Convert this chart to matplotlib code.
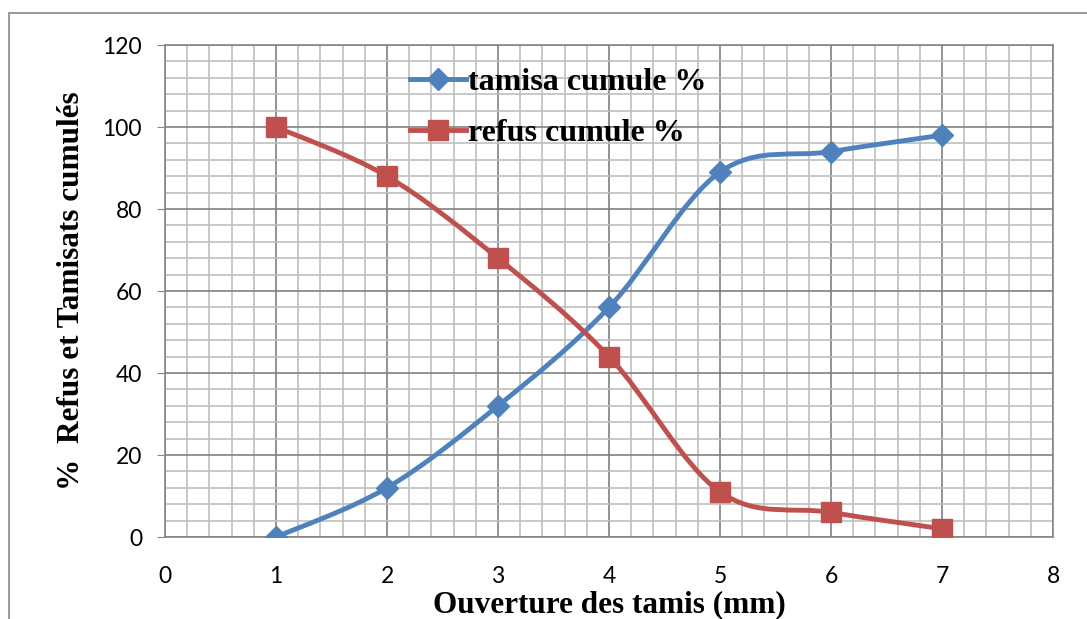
import numpy as np
import matplotlib
matplotlib.use("Agg")
import matplotlib.pyplot as plt
from matplotlib.path import Path
from matplotlib.patches import PathPatch, Rectangle
from matplotlib.lines import Line2D
from matplotlib.ticker import MultipleLocator

ouverture = [1, 2, 3, 4, 5, 6, 7]
tamisa = [0, 12, 32, 56, 89, 94, 98]
refus = [100, 88, 68, 44, 11, 6, 2]

BLUE = "#4F81BD"
RED = "#C0504D"


def smooth_path(xs, ys):
    # cubic bezier through every point, spreadsheet-style smoothing
    pts = np.column_stack([xs, ys]).astype(float)
    n = len(pts)
    verts = [pts[0]]
    codes = [Path.MOVETO]
    for i in range(n - 1):
        p0 = pts[i - 1] if i > 0 else pts[i]
        p1 = pts[i]
        p2 = pts[i + 1]
        p3 = pts[i + 2] if i + 2 < n else pts[i + 1]
        c1 = p1 + (p2 - p0) / 6.0
        c2 = p2 - (p3 - p1) / 6.0
        verts += [c1, c2, p2]
        codes += [Path.CURVE4] * 3
    return Path(verts, codes)


fig = plt.figure(figsize=(10.87, 6.19), dpi=100)
ax = fig.add_axes([165 / 1087, 1 - 537 / 619, 888 / 1087, 492 / 619])

# outer chart frame
fig.patches.append(Rectangle((9 / 1087, -0.1), 1.2, 1 - 13 / 619 + 0.1,
                             transform=fig.transFigure, fill=False,
                             edgecolor="#888888", linewidth=1.2, zorder=0))

ax.set_xlim(0, 8)
ax.set_ylim(0, 120)
ax.xaxis.set_major_locator(MultipleLocator(1))
ax.xaxis.set_minor_locator(MultipleLocator(0.2))
ax.yaxis.set_major_locator(MultipleLocator(20))
ax.yaxis.set_minor_locator(MultipleLocator(4))
ax.grid(which="minor", color="#BFBFBF", linewidth=1.2)
ax.grid(which="major", color="#808080", linewidth=1.2)
ax.set_axisbelow(True)
for s in ax.spines.values():
    s.set_color("#868686")
    s.set_linewidth(1.2)
ax.tick_params(which="major", color="#868686", labelsize=16.5)
ax.tick_params(axis="y", length=5.5, pad=11)
ax.tick_params(axis="x", length=0, pad=21)
ax.tick_params(which="minor", length=0)
for lab in ax.get_xticklabels() + ax.get_yticklabels():
    lab.set_fontfamily("Lato")

for ys, col in [(tamisa, BLUE), (refus, RED)]:
    ax.add_patch(PathPatch(smooth_path(ouverture, ys), facecolor="none",
                           edgecolor=col, linewidth=3.5, capstyle="round",
                           joinstyle="round", zorder=3))
ax.plot(ouverture, tamisa, linestyle="none", marker="D", markersize=11.5,
        color=BLUE, zorder=4)
ax.plot(ouverture, refus, linestyle="none", marker="s", markersize=14,
        color=RED, zorder=4)

handles = [Line2D([], [], color=BLUE, linewidth=3.5, marker="D", markersize=11.5),
           Line2D([], [], color=RED, linewidth=3.5, marker="s", markersize=14)]
leg = ax.legend(handles, ["tamisa cumule %", "refus cumule %"],
                loc="upper left", bbox_to_anchor=(0.2436, 1.012),
                frameon=False, handlelength=1.75, handletextpad=0.05,
                labelspacing=0.68,
                prop={"family": "Liberation Serif", "weight": "bold", "size": 23})

ax.set_xlabel("Ouverture des tamis (mm)", fontfamily="Liberation Serif",
              fontweight="bold", fontsize=22.5, labelpad=2)
ax.set_ylabel("%  Refus et Tamisats cumulés", fontfamily="Liberation Serif",
              fontweight="bold", fontsize=22.5, labelpad=12)

fig.savefig("out.png", dpi=100)
